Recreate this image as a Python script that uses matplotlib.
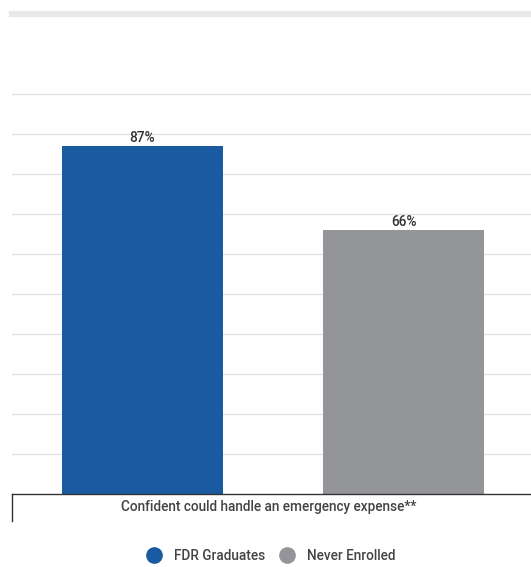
import matplotlib.pyplot as plt
from matplotlib.lines import Line2D

plt.rcParams['font.family'] = ['Roboto', 'DejaVu Sans']

category = 'Confident could handle an emergency expense**'
groups = ['FDR Graduates', 'Never Enrolled']
values = [87, 66]
colors = ['#1a5aa0', '#939598']

fig = plt.figure(figsize=(5.31, 5.67), dpi=100)
ax = fig.add_axes([12 / 531, 73 / 567, 522 / 531, 480 / 567])

# bars, with their value written on top
x = list(range(len(groups)))
bars = ax.bar(x, values, width=0.615, color=colors, zorder=2)
for b, v in zip(bars, values):
    ax.text(b.get_x() + b.get_width() / 2, v + 0.3, f'{v}%', ha='center', va='bottom',
            fontsize=9.8, color='#333333', fontweight='medium')

ax.set_xlim(-0.5, 1.5)
ax.set_ylim(0, 120)
ax.set_yticks(range(10, 101, 10))
ax.yaxis.grid(True, color='#e2e2e2', linewidth=1)
ax.set_axisbelow(True)
ax.tick_params(left=False, labelleft=False, bottom=False, labelbottom=False)

for side in ['left', 'right']:
    ax.spines[side].set_visible(False)
ax.spines['top'].set_color('#e8e8e8')
ax.spines['top'].set_linewidth(4.5)
ax.spines['bottom'].set_color('#333333')
ax.spines['bottom'].set_linewidth(1)

# category label and separator tick
ax.text(257 / 522, -13 / 480, category, transform=ax.transAxes, ha='center', va='center',
        fontsize=9.8, color='#444444', fontweight='medium')
ax.add_line(Line2D([0, 0], [0, -27 / 480], transform=ax.transAxes, color='#333333',
                   linewidth=1, clip_on=False))

handles = [Line2D([], [], marker='o', linestyle='', markersize=11, color=c) for c in colors]
fig.legend(handles, groups, loc='center', bbox_to_anchor=(268 / 531, 1 - 556 / 567), ncol=2,
           frameon=False, handletextpad=0.5, columnspacing=0.6,
           prop={'weight': 'medium', 'size': 9.8})
for t in fig.legends[0].get_texts():
    t.set_color('#444444')

fig.savefig('out.png', dpi=100)
